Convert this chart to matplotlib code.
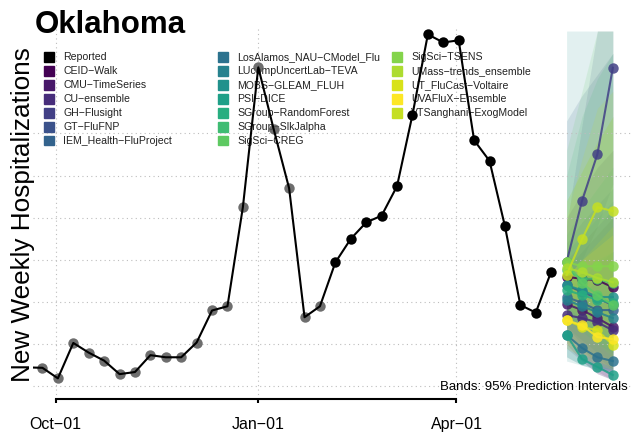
import numpy as np
import pandas as pd
import matplotlib
matplotlib.use("Agg")
import matplotlib.pyplot as plt
import matplotlib.dates as mdates
from matplotlib.patches import Rectangle

plt.rcParams["font.family"] = ["Liberation Sans", "DejaVu Sans"]

# reported weekly hospitalizations (first point sits just left of the panel)
report_dates = pd.date_range("2021-09-18", "2022-05-14", freq="7D")
reported = [45, 44, 19, 103, 80, 61, 29, 34, 74, 69,
            69, 104, 180, 190, 425, 757, 610, 470, 164, 190,
            294, 350, 389, 405, 475, 644, 835, 816, 821, 584,
            535, 380, 193, 175, 272]
n_grey = 20  # older points drawn in grey

fc_dates = pd.date_range("2022-05-21", periods=4, freq="7D")
models = ["CEID-Walk", "CMU-TimeSeries", "CU-ensemble", "GH-Flusight",
          "GT-FluFNP", "IEM_Health-FluProject", "LosAlamos_NAU-CModel_Flu",
          "LUcompUncertLab-TEVA", "MOBS-GLEAM_FLUH", "PSI-DICE",
          "SGroup-RandomForest", "SGroup-SlkJalpha", "SigSci-CREG",
          "SigSci-TSENS", "UMass-trends_ensemble", "UT_FluCast-Voltaire",
          "UVAFluX-Ensemble", "VTSanghani-ExogModel"]

# medians per model, 1-4 weeks ahead
fc_median = [
    [260, 255, 252, 235],
    [195, 181, 162, 141],
    [169, 162, 152, 133],
    [295, 440, 551, 756],
    [240, 224, 209, 193],
    [212, 198, 181, 181],
    [122, 91, 69, 60],
    [205, 190, 176, 162],
    [240, 228, 212, 212],
    [122, 65, 46, 27],
    [228, 217, 205, 198],
    [276, 255, 255, 245],
    [295, 245, 217, 193],
    [295, 285, 285, 285],
    [281, 271, 257, 247],
    [157, 141, 133, 98],
    [157, 145, 117, 112],
    [264, 349, 425, 416],
]
# 95% prediction intervals
fc_lower = [
    [100, 60, 30, 15],
    [110, 70, 35, 15],
    [90, 60, 30, 15],
    [220, 300, 380, 480],
    [130, 90, 50, 20],
    [140, 100, 70, 40],
    [70, 50, 40, 35],
    [140, 110, 80, 60],
    [60, 50, 45, 40],
    [70, 50, 40, 35],
    [160, 130, 100, 80],
    [170, 140, 110, 80],
    [180, 140, 100, 70],
    [200, 170, 140, 110],
    [190, 160, 130, 100],
    [90, 70, 50, 40],
    [100, 80, 60, 45],
    [190, 220, 250, 240],
]
fc_upper = [
    [400, 460, 520, 560],
    [300, 340, 380, 420],
    [280, 320, 360, 400],
    [380, 620, 843, 843],
    [630, 690, 740, 790],
    [340, 390, 430, 470],
    [230, 260, 290, 320],
    [320, 360, 400, 440],
    [843, 843, 843, 843],
    [260, 280, 300, 320],
    [360, 420, 470, 520],
    [500, 640, 730, 790],
    [560, 700, 843, 843],
    [440, 510, 580, 640],
    [440, 510, 580, 640],
    [260, 300, 340, 380],
    [260, 300, 330, 360],
    [400, 540, 660, 700],
]

colors = [matplotlib.colors.to_hex(c) for c in plt.cm.viridis(np.linspace(0, 1, 17))]
colors.append("#c5df22")

W, H = 632, 433
fig = plt.figure(figsize=(W / 100, H / 100), dpi=100)


def fx(x):
    return x / W


def fy(y):
    return 1 - y / H


ax = fig.add_axes([fx(33), fy(399), fx(632 - 33), (399 - 26) / H])
ax.patch.set_visible(False)

jan1 = pd.Timestamp("2022-01-01")
ax.set_xlim(jan1 - pd.Timedelta(days=102.3), jan1 + pd.Timedelta(days=169.7))
ax.set_ylim(-30, 855)

# bands
for i, m in enumerate(models):
    ax.fill_between(fc_dates, fc_lower[i], fc_upper[i], color=colors[i],
                    alpha=0.13, lw=0, zorder=1.2)

# reported
ax.plot(report_dates[:n_grey], reported[:n_grey], "o", color="#555555",
        alpha=0.85, ms=7.5, mec="none", zorder=2)
ax.plot(report_dates, reported, "-", color="black", lw=1.5, zorder=3)
ax.plot(report_dates[n_grey:], reported[n_grey:], "o", color="black",
        ms=7.5, mec="none", zorder=3)

# forecasts
for i, m in enumerate(models):
    ax.plot(fc_dates, fc_median[i], "-o", color=colors[i], lw=1.5, ms=7.5,
            mec="none", alpha=0.85, zorder=4)

ticks = [pd.Timestamp("2021-10-01"), jan1, pd.Timestamp("2022-04-01")]
ax.set_xticks(ticks)
ax.set_xticklabels(["Oct\u221201", "Jan\u221201", "Apr\u221201"])
ax.set_yticks(range(0, 700, 100))
ax.set_yticklabels([])
ax.tick_params(axis="y", length=0)
ax.tick_params(axis="x", length=3, width=1.5, labelsize=11.5, pad=10)
ax.grid(True, ls=(0, (1, 3)), color="#bdbdbd", lw=0.8, zorder=0.5)
for s in ["left", "right", "top"]:
    ax.spines[s].set_visible(False)
ax.spines["bottom"].set_linewidth(1.5)
ax.spines["bottom"].set_bounds(mdates.date2num(ticks[0]), mdates.date2num(ticks[-1]))

# legend, drawn underneath the data
labels = ["Reported"] + models
cols = [labels[:7], labels[7:14], labels[14:]]
col_x = [44, 218, 392]
row_y = 57
for c, entries in enumerate(cols):
    for r, lab in enumerate(entries):
        idx = labels.index(lab)
        col = "black" if idx == 0 else colors[idx - 1]
        yy = row_y + r * 13.95
        ax.add_patch(Rectangle((fx(col_x[c]), fy(yy + 4.75)), fx(9.5), 9.5 / H,
                               transform=fig.transFigure, color=col,
                               clip_on=False, zorder=1.5))
        ax.text(fx(col_x[c] + 19), fy(yy), lab.replace("-", "\u2212"),
                transform=fig.transFigure, fontsize=7.6, va="center",
                ha="left", color="#222222", zorder=1.5)

fig.text(fx(35), fy(33), "Oklahoma", fontsize=22.5, fontweight="bold",
         va="baseline", ha="left")
fig.text(fx(23), fy(215), "New Weekly Hospitalizations", fontsize=18.8,
         rotation=90, va="center", ha="center")
ax.text(fx(628), fy(390), "Bands: 95% Prediction Intervals", fontsize=9.5,
        ha="right", va="baseline", transform=fig.transFigure, zorder=6)

fig.savefig("out.png", dpi=100)
